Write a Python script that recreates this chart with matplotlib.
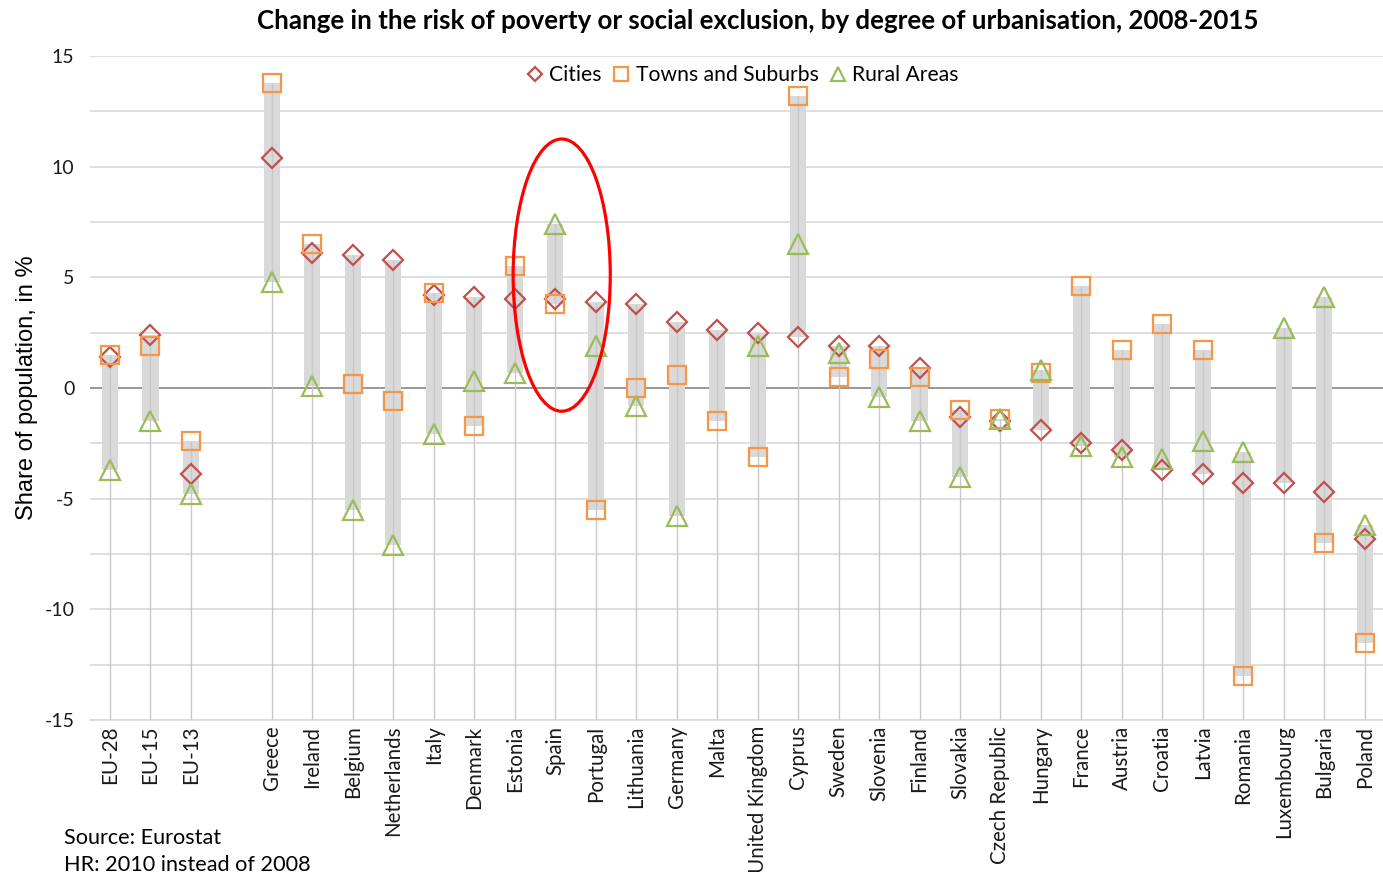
import numpy as np
import matplotlib
matplotlib.use("Agg")
import matplotlib.pyplot as plt
from matplotlib.patches import Ellipse
from matplotlib.lines import Line2D
from matplotlib.ticker import MultipleLocator

plt.rcParams["axes.unicode_minus"] = False

categories = ["EU-28", "EU-15", "EU-13", "", "Greece", "Ireland", "Belgium", "Netherlands",
              "Italy", "Denmark", "Estonia", "Spain", "Portugal", "Lithuania", "Germany",
              "Malta", "United Kingdom", "Cyprus", "Sweden", "Slovenia", "Finland",
              "Slovakia", "Czech Republic", "Hungary", "France", "Austria", "Croatia",
              "Latvia", "Romania", "Luxembourg", "Bulgaria", "Poland"]

nan = np.nan
cities = [1.4, 2.4, -3.9, nan, 10.4, 6.1, 6.0, 5.8,
          4.2, 4.1, 4.0, 4.0, 3.9, 3.8, 3.0,
          2.6, 2.5, 2.3, 1.9, 1.9, 0.9,
          -1.3, -1.5, -1.9, -2.5, -2.8, -3.7,
          -3.9, -4.3, -4.3, -4.7, -6.8]
towns = [1.5, 1.9, -2.4, nan, 13.8, 6.5, 0.2, -0.6,
         4.3, -1.7, 5.5, 3.8, -5.5, 0.0, 0.6,
         -1.5, -3.1, 13.2, 0.5, 1.3, 0.5,
         -1.0, -1.4, 0.7, 4.6, 1.7, 2.9,
         1.7, -13.0, nan, -7.0, -11.5]
rural = [-3.7, -1.5, -4.8, nan, 4.8, 0.1, -5.5, -7.1,
         -2.1, 0.3, 0.7, 7.4, 1.9, -0.8, -5.8,
         nan, 1.9, 6.5, 1.6, -0.4, -1.5,
         -4.0, -1.4, 0.8, -2.6, -3.1, -3.2,
         -2.4, -2.9, 2.7, 4.1, -6.2]

title = "Change in the risk of poverty or social exclusion, by degree of urbanisation, 2008-2015"
ylabel = "Share of population, in %"
notes = ["Source: Eurostat", "HR: 2010 instead of 2008"]
highlight = "Spain"

C_CITY = "#c0504d"
C_TOWN = "#f79646"
C_RURAL = "#9bbb59"
CAL = ["Lato", "DejaVu Sans"]

fig = plt.figure(figsize=(13.83, 8.72), dpi=100)
ax = fig.add_axes([89.75 / 1383, 152 / 872, (1385 - 89.75) / 1383, 664 / 872])

x = np.arange(len(categories))
vals = np.array([cities, towns, rural], dtype=float)
has = ~np.all(np.isnan(vals), axis=0)
hi = np.nanmax(np.where(np.isnan(vals), -np.inf, vals), axis=0)
lo = np.nanmin(np.where(np.isnan(vals), np.inf, vals), axis=0)

ax.set_xlim(-0.5, len(categories) - 0.5)
ax.set_ylim(-15, 15)

# grid
ax.yaxis.set_major_locator(MultipleLocator(5))
ax.yaxis.set_minor_locator(MultipleLocator(2.5))
ax.grid(axis="y", which="both", color="#d9d9d9", lw=1.2, zorder=0)
ax.set_axisbelow(True)
ax.axhline(0, color="#8c8c8c", lw=1.2, zorder=1)

# drop lines
ax.vlines(x[has], -15, hi[has], color="#c8c8c8", lw=1.0, zorder=3)
# range bars
ax.bar(x[has], (hi - lo)[has], bottom=lo[has], width=0.4, color="#d9d9d9", zorder=2)

mk = dict(linestyle="none", mfc="none", mew=1.6)
ax.plot(x, cities, marker="D", ms=10.5, mec=C_CITY, zorder=5, **mk)
ax.plot(x, towns, marker="s", ms=13, mec=C_TOWN, zorder=5, **mk)
ax.plot(x, rural, marker="^", ms=14.5, mec=C_RURAL, zorder=5, **mk)

for s in ["top", "right", "left"]:
    ax.spines[s].set_visible(False)
ax.spines["bottom"].set_color("#d9d9d9")
ax.spines["bottom"].set_linewidth(1.2)

ax.set_xticks(x)
ax.set_xticklabels(categories, rotation=90, family=CAL, fontsize=14.8, color="#1a1a1a")
ax.tick_params(axis="both", which="both", length=0)
ax.tick_params(axis="x", pad=4)
ax.tick_params(axis="y", pad=11, labelsize=14, labelcolor="#1a1a1a")
for t in ax.get_yticklabels():
    t.set_family(CAL)

ax.set_ylabel(ylabel, family=["Liberation Sans", "DejaVu Sans"], fontsize=17)
ax.yaxis.set_label_coords(-0.04, 0.5)

fig.text(758 / 1383, 1 - 21 / 872, title, ha="center", va="center",
         family=CAL, fontsize=18.6, fontweight="bold")

handles = [Line2D([], [], marker="D", ms=7.5, mec=C_CITY, **mk),
           Line2D([], [], marker="s", ms=10, mec=C_TOWN, **mk),
           Line2D([], [], marker="^", ms=10.5, mec=C_RURAL, **mk)]
ax.legend(handles, ["Cities", "Towns and Suburbs", "Rural Areas"], loc="center",
          bbox_to_anchor=(0.504, 0.971), ncol=3, frameon=False, handlelength=0.8,
          handletextpad=0.3, columnspacing=0.5, prop={"family": CAL, "size": 15.2})

# highlight ellipse around Spain
i = categories.index(highlight)
ax.add_patch(Ellipse((i + 0.16, 5.1), 2.4, 12.3, fill=False, ec="#ff0000", lw=2.3, zorder=6))

fig.text(64 / 1383, 1 - 838 / 872, notes[0], ha="left", va="center", family=CAL, fontsize=15.6)
fig.text(64 / 1383, 1 - 865 / 872, notes[1], ha="left", va="center", family=CAL, fontsize=15.6)

fig.savefig("out.png", dpi=100)
